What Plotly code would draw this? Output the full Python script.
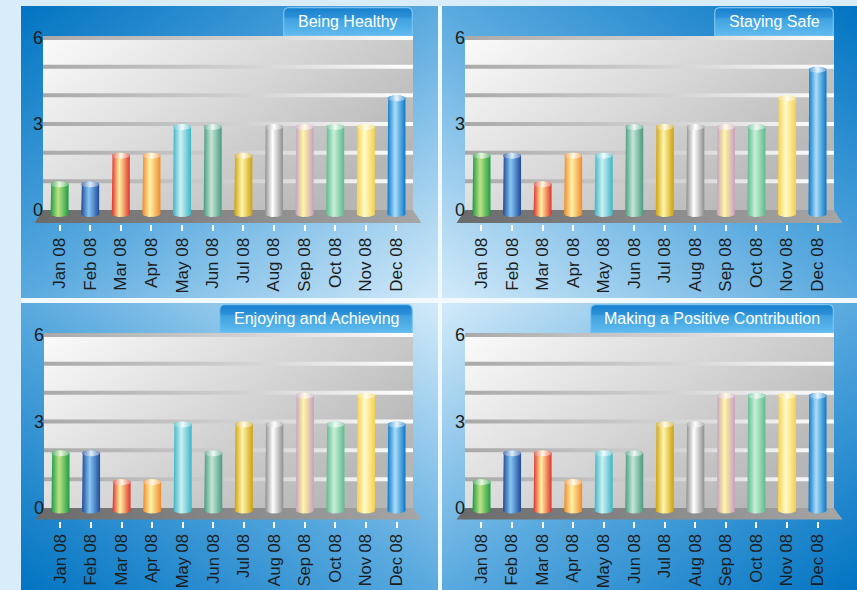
import base64
import math
import plotly.graph_objects as go

W, H = 857, 590

months = ["Jan 08", "Feb 08", "Mar 08", "Apr 08", "May 08", "Jun 08",
          "Jul 08", "Aug 08", "Sep 08", "Oct 08", "Nov 08", "Dec 08"]
titles = ["Being Healthy", "Staying Safe", "Enjoying and Achieving",
          "Making a Positive Contribution"]
being_healthy = [1, 1, 2, 2, 3, 3, 2, 3, 3, 3, 3, 4]
staying_safe = [2, 2, 1, 2, 2, 3, 3, 3, 3, 3, 4, 5]
enjoying_achieving = [2, 2, 1, 1, 3, 2, 3, 3, 4, 3, 4, 3]
positive_contribution = [1, 2, 2, 1, 2, 2, 3, 3, 4, 4, 4, 4]
series = [being_healthy, staying_safe, enjoying_achieving, positive_contribution]
y_ticks = [0, 3, 6]
grid_levels = [1, 2, 3, 4, 5, 6]

# (edge colour, highlight colour) per month
bar_colors = [
    ("#1e9c44", "#bde284"), ("#1f4a9a", "#86c6f2"), ("#e0332a", "#fff1a2"),
    ("#ef8a2c", "#fff2a6"), ("#3bb6c6", "#cdf0f2"), ("#4b9a82", "#c4e6d6"),
    ("#cfa00a", "#fff5ad"), ("#8e8e8e", "#ffffff"), ("#c6a0c2", "#fff6a2"),
    ("#5cbb8c", "#c8eed8"), ("#f6cf4c", "#fffbc8"), ("#0a78c8", "#aadcf8"),
]

FONT = "Liberation Sans, Arial, sans-serif"

# panel layout in pixels: panel box, wall box, y of value 6 / 0, floor depth,
# bar drop below zero, tick-label size, tab box, dark corner
panels = [
    dict(box=(21, 6, 438, 298), wall=(43, 413), y6=38, y0=210, floor=13, drop=7, fs=17,
         tab=(283, 7, 413, 36), dark=(0, 0)),
    dict(box=(442, 6, 857, 298), wall=(465, 834), y6=38, y0=210, floor=13, drop=7, fs=17,
         tab=(714, 7, 834, 36), dark=(1, 0)),
    dict(box=(21, 303, 438, 590), wall=(44, 413), y6=335, y0=508, floor=11.5, drop=5.5, fs=16.5,
         tab=(219, 304, 413, 333), dark=(0, 1)),
    dict(box=(442, 303, 857, 590), wall=(465, 834), y6=335, y0=508, floor=11.5, drop=5.5, fs=16.5,
         tab=(590, 304, 834, 333), dark=(1, 1)),
]

XL, XR = -0.54, 11.54      # wall extent in category units
XMIN, XMAX = -0.9, 11.9    # axis range
YMAX = 6.3


def uri(svg):
    return "data:image/svg+xml;base64," + base64.b64encode(svg.encode()).decode()


def px(x):
    return x / W


def py(y):
    return 1 - y / H


def mix(c1, c2, t):
    a = [int(c1[i:i + 2], 16) for i in (1, 3, 5)]
    b = [int(c2[i:i + 2], 16) for i in (1, 3, 5)]
    return "#" + "".join(f"{round(a[k] + (b[k] - a[k]) * t):02x}" for k in range(3))


fig = go.Figure()
images, annotations, shapes = [], [], []

# gaps between panels
shapes.append(dict(type="rect", xref="paper", yref="paper", x0=px(438), x1=px(442),
                   y0=0, y1=py(6), fillcolor="#f2f9fe", line_width=0, layer="below"))
shapes.append(dict(type="rect", xref="paper", yref="paper", x0=px(21), x1=1,
                   y0=py(303), y1=py(298), fillcolor="#f2f9fe", line_width=0, layer="below"))

for k, p in enumerate(panels):
    n = k + 1
    xa = "x" if n == 1 else f"x{n}"
    ya = "y" if n == 1 else f"y{n}"
    bx0, by0, bx1, by1 = p["box"]
    wl, wr = p["wall"]
    ppx = (wr - wl) / (XR - XL)
    ppy = (p["y0"] - p["y6"]) / 6.0
    ymin = -(p["floor"] + 1.0) / ppy
    d_left = wl + (XMIN - XL) * ppx
    d_right = wr + (XMAX - XR) * ppx
    d_top = p["y6"] - (YMAX - 6) * ppy
    d_bot = p["y0"] - ymin * ppy

    # panel background gradient (dark at outer corner)
    dx, dy = p["dark"]
    svg = ("<svg xmlns='http://www.w3.org/2000/svg' width='100' height='100' viewBox='0 0 100 100' "
           "preserveAspectRatio='none'><defs><linearGradient id='g' "
           f"x1='{dx}' y1='{dy}' x2='{1 - dx}' y2='{1 - dy}'>"
           "<stop offset='0' stop-color='#0274c2'/><stop offset='0.5' stop-color='#5aaadf'/>"
           "<stop offset='1' stop-color='#d2eaf9'/></linearGradient></defs>"
           "<rect width='100' height='100' fill='url(#g)'/></svg>")
    images.append(dict(source=uri(svg), xref="paper", yref="paper", x=px(bx0), y=py(by0),
                       sizex=px(bx1) - px(bx0), sizey=py(by0) - py(by1), xanchor="left",
                       yanchor="top", sizing="stretch", layer="below"))

    # wall (back plane)
    svgw = ("<svg xmlns='http://www.w3.org/2000/svg' width='100' height='100' viewBox='0 0 100 100' "
            "preserveAspectRatio='none'><defs><linearGradient id='w' x1='0' y1='0' x2='1' y2='0.6'>"
            "<stop offset='0' stop-color='#fbfbfb'/><stop offset='0.55' stop-color='#d6d6d6'/>"
            "<stop offset='1' stop-color='#b6b6b6'/></linearGradient></defs>"
            "<rect width='100' height='100' fill='url(#w)'/></svg>")
    images.append(dict(source=uri(svgw), xref=xa, yref=ya, x=XL, y=6.07, sizex=XR - XL,
                       sizey=6.07, xanchor="left", yanchor="top", sizing="stretch", layer="below"))

    # title tab
    tx0, ty0, tx1, ty1 = p["tab"]
    tw, th = tx1 - tx0, ty1 - ty0
    r = 6
    svgt = (f"<svg xmlns='http://www.w3.org/2000/svg' width='{tw}' height='{th}' viewBox='0 0 {tw} {th}' "
            "preserveAspectRatio='none'><defs><linearGradient id='t' x1='0' y1='0' x2='0' y2='1'>"
            "<stop offset='0' stop-color='#1680cc'/><stop offset='0.33' stop-color='#2c90d8'/>"
            "<stop offset='0.4' stop-color='#3fa2e0'/><stop offset='1' stop-color='#62bcef'/>"
            "</linearGradient></defs>"
            f"<path d='M0.7,{th} L0.7,{r} Q0.7,0.7 {r},0.7 L{tw - r},0.7 Q{tw - 0.7},0.7 {tw - 0.7},{r} "
            f"L{tw - 0.7},{th} Z' fill='url(#t)' stroke='#7cc2f0' stroke-width='1.2'/></svg>")
    images.append(dict(source=uri(svgt), xref="paper", yref="paper", x=px(tx0), y=py(ty0),
                       sizex=px(tx1) - px(tx0), sizey=py(ty0) - py(ty1), xanchor="left",
                       yanchor="top", sizing="stretch", layer="above"))
    annotations.append(dict(text=titles[k], xref="paper", yref="paper",
                            x=(px(tx0) + px(tx1)) / 2, y=(py(ty0) + py(ty1)) / 2,
                            showarrow=False, xanchor="center", yanchor="middle",
                            font=dict(family=FONT, size=16, color="white")))

    # grid bands
    gh = 2.0 / ppy
    for g in grid_levels:
        fig.add_trace(go.Scatter(
            x=[XL, XR, XR, XL, XL], y=[g - gh, g - gh, g + gh, g + gh, g - gh],
            xaxis=xa, yaxis=ya, mode="lines", line=dict(width=0), fill="toself",
            fillgradient=dict(type="horizontal",
                              colorscale=[[0, "#a9a9a9"], [0.55, "#d2d2d2"], [1, "#ffffff"]]),
            hoverinfo="skip", showlegend=False))

    # floor
    fdx = 8.5 / ppx
    fdy = p["floor"] / ppy
    fig.add_trace(go.Scatter(
        x=[XL, XR, XR + fdx, XL - fdx, XL], y=[0, 0, -fdy, -fdy, 0],
        xaxis=xa, yaxis=ya, mode="lines", line=dict(width=0), fill="toself",
        fillgradient=dict(type="horizontal", colorscale=[[0, "#6a6a6a"], [1, "#a6a6a6"]]),
        hoverinfo="skip", showlegend=False))

    # cylinder bars
    hw = 9.0 / ppx
    ry = 3.0 / ppy
    yb = -(p["drop"] - 3.0) / ppy
    steps = 24
    for i, v in enumerate(series[k]):
        edge, hi = bar_colors[i]
        vc = v - ry
        xs, ys = [i - hw, i - hw], [yb, vc]
        for s in range(steps + 1):
            t = math.pi - math.pi * s / steps
            xs.append(i + hw * math.cos(t)); ys.append(vc + ry * math.sin(t))
        xs.append(i + hw); ys.append(yb)
        for s in range(steps + 1):
            t = -math.pi * s / steps
            xs.append(i + hw * math.cos(t)); ys.append(yb + ry * math.sin(t))
        fig.add_trace(go.Scatter(
            x=xs, y=ys, xaxis=xa, yaxis=ya, mode="lines", line=dict(width=0), fill="toself",
            fillgradient=dict(type="horizontal",
                              colorscale=[[0, edge], [0.42, hi], [0.6, mix(hi, edge, 0.3)], [1, edge]]),
            hoverinfo="skip", showlegend=False))
        cx, cy = [], []
        for s in range(2 * steps + 1):
            t = 2 * math.pi * s / (2 * steps)
            cx.append(i + hw * math.cos(t)); cy.append(vc + ry * math.sin(t))
        fig.add_trace(go.Scatter(
            x=cx, y=cy, xaxis=xa, yaxis=ya, mode="lines", line=dict(width=0), fill="toself",
            fillgradient=dict(type="horizontal",
                              colorscale=[[0, mix(edge, "#ffffff", 0.25)], [0.5, mix(hi, "#ffffff", 0.7)],
                                          [1, mix(edge, "#ffffff", 0.35)]]),
            hoverinfo="skip", showlegend=False))

    xkey = "xaxis" if n == 1 else f"xaxis{n}"
    ykey = "yaxis" if n == 1 else f"yaxis{n}"
    fig.update_layout({
        xkey: dict(domain=[px(d_left), px(d_right)], range=[XMIN, XMAX], anchor=ya,
                   tickvals=list(range(len(months))), ticktext=months, tickangle=-90,
                   ticks="outside", ticklen=6, tickwidth=2, tickcolor="white",
                   showgrid=False, zeroline=False, showline=False, fixedrange=True,
                   automargin=False,
                   tickfont=dict(family=FONT, size=p["fs"], color="#1c1c1c")),
        ykey: dict(domain=[py(d_bot), py(d_top)], range=[ymin, YMAX], anchor="free",
                   position=px(wl), tickvals=y_ticks, ticktext=[str(t) for t in y_ticks],
                   ticks="", showgrid=False, zeroline=False, showline=False, fixedrange=True,
                   automargin=False,
                   tickfont=dict(family=FONT, size=18, color="#1c1c1c")),
    })

fig.update_layout(
    width=W, height=H, margin=dict(l=0, r=0, t=0, b=0, autoexpand=False),
    paper_bgcolor="#d8ecf9", plot_bgcolor="rgba(0,0,0,0)",
    images=images, annotations=annotations, shapes=shapes, showlegend=False,
)

fig.write_html("out.html")
